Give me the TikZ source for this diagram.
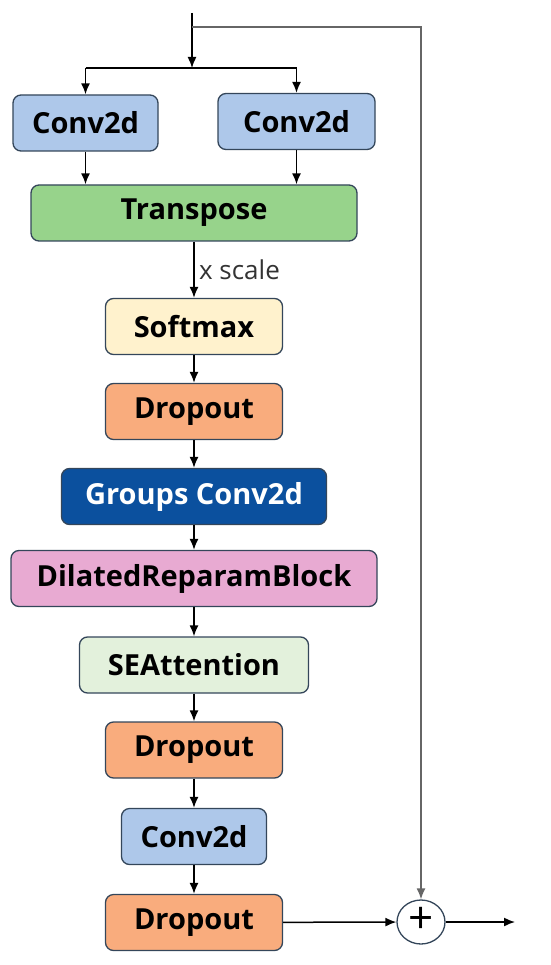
\documentclass[tikz,border=0pt]{standalone}
\usepackage{fontspec}
\setmainfont{Open Sans}
\usepackage{xcolor}
\usetikzlibrary{arrows.meta}
\usetikzlibrary{math}
\usetikzlibrary{shapes.geometric}

\definecolor{convblue}{HTML}{AEC8EA}
\definecolor{transgreen}{HTML}{97D38B}
\definecolor{softyellow}{HTML}{FFF2CD}
\definecolor{droporange}{HTML}{F9AC7D}
\definecolor{groupblue}{HTML}{0B509E}
\definecolor{dilpink}{HTML}{E8AAD2}
\definecolor{sepale}{HTML}{E3F1DC}
\definecolor{edgegray}{HTML}{34465A}

\begin{document}
\begin{tikzpicture}[x=1pt, y=-1pt,
  blk/.style={draw=edgegray, line width=1.3, rounded corners=8, minimum height=\bh,
    inner sep=0, font=\fontsize{29}{33}\selectfont\bfseries},
  arr/.style={-{Latex[length=11,width=9]}, line width=1.5}
]
\tikzmath{
\bh=56;
}
\useasboundingbox (0,0) rectangle (550,965);
% first stage
\node[blk, fill=convblue, minimum width=145] (conva) at (85.5,123) {Conv2d};
\node[blk, fill=convblue, minimum width=157] (convb) at (296.5,121.5) {Conv2d};
\node[blk, fill=transgreen, minimum width=326] (trans) at (194,213) {Transpose};
% main chain
\node[blk, fill=softyellow, minimum width=177] (soft) at (194,326.5) {Softmax};
\node[blk, fill=droporange, minimum width=177] (dropa) at (194,411.5) {Dropout};
\node[blk, fill=groupblue, text=white, minimum width=265] (gconv) at (194,496.5) {Groups Conv2d};
\node[blk, fill=dilpink, minimum width=366] (dil) at (194,578.5) {DilatedReparamBlock};
\node[blk, fill=sepale, minimum width=229] (se) at (194,665) {SEAttention};
\node[blk, fill=droporange, minimum width=177] (dropb) at (194,750) {Dropout};
\node[blk, fill=convblue, minimum width=145] (convc) at (194,836.5) {Conv2d};
\node[blk, fill=droporange, minimum width=177] (dropc) at (194,922.5) {Dropout};
\node[draw=edgegray, line width=1.3, ellipse, minimum width=48, minimum height=44, inner sep=0,
  font=\fontsize{44}{44}\selectfont] (plus) at (421,922) {\raisebox{2.5pt}{+}};

\coordinate (in) at (192,13);
\coordinate (split) at (192,68);
\coordinate (skip) at (192,27);
\coordinate (out) at (515,922);

% input and split
\draw[arr] (in) -- (split);
\draw[line width=1.5] (conva.north |- split) -- (convb.north |- split);
\draw[arr] (conva.north |- split) -- (conva.north);
\draw[arr] (convb.north |- split) -- (convb.north);
\draw[arr] (conva.south) -- (conva.south |- trans.north);
\draw[arr] (convb.south) -- (convb.south |- trans.north);
\draw[arr] (trans.south -| soft.north) -- (soft.north)
  node[midway, right, font=\fontsize{26}{30}\selectfont, text=black!80, xshift=1] {x scale};
% chain
\draw[arr] (soft) -- (dropa);
\draw[arr] (dropa) -- (gconv);
\draw[arr] (gconv) -- (dil);
\draw[arr] (dil) -- (se);
\draw[arr] (se) -- (dropb);
\draw[arr] (dropb) -- (convc);
\draw[arr] (convc) -- (dropc);
% residual
\draw[arr, draw=black!60] (skip) -| (plus.north);
\draw[arr] (dropc) -- (plus);
\draw[arr] (plus) -- (out);
\end{tikzpicture}
\end{document}
